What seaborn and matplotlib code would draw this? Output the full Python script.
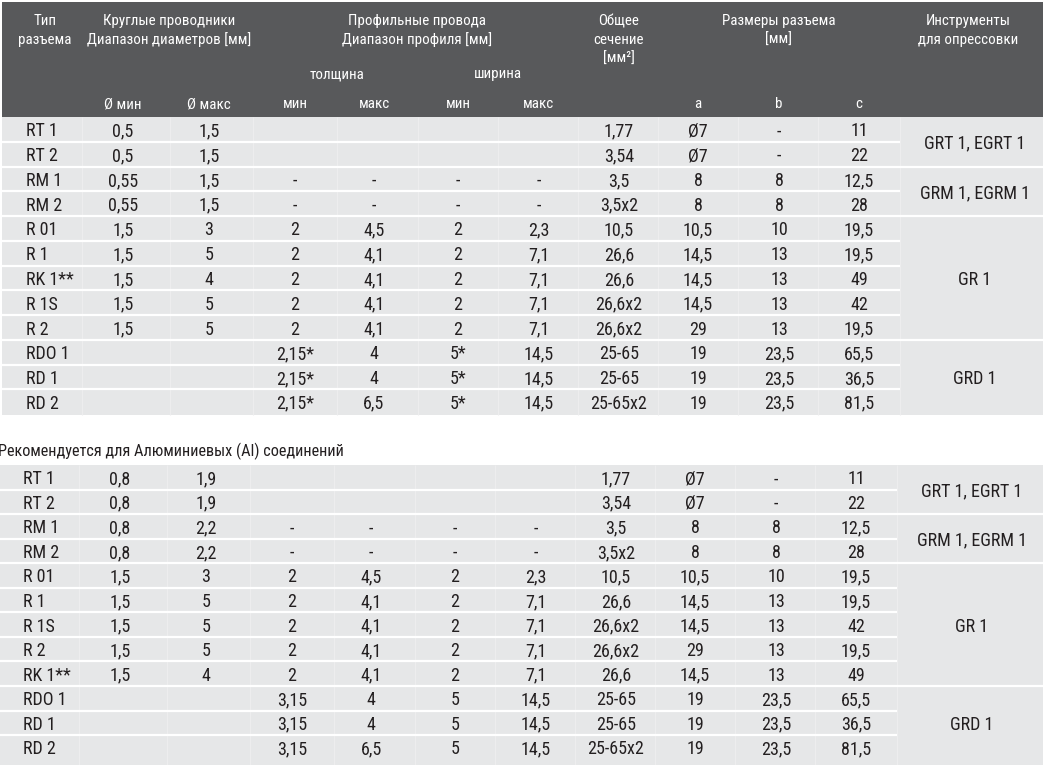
import matplotlib
matplotlib.use('Agg')
import matplotlib.pyplot as plt
import seaborn as sns
from matplotlib import font_manager
from matplotlib.patches import Rectangle

# данные таблицы 1 (медь)
types1 = ['RT 1', 'RT 2', 'RM 1', 'RM 2', 'R 01', 'R 1', 'RK 1**', 'R 1S', 'R 2', 'RDO 1', 'RD 1', 'RD 2']
dmin1 = ['0,5', '0,5', '0,55', '0,55', '1,5', '1,5', '1,5', '1,5', '1,5', '', '', '']
dmax1 = ['1,5', '1,5', '1,5', '1,5', '3', '5', '4', '5', '5', '', '', '']
tmin1 = ['', '', '-', '-', '2', '2', '2', '2', '2', '2,15*', '2,15*', '2,15*']
tmax1 = ['', '', '-', '-', '4,5', '4,1', '4,1', '4,1', '4,1', '4', '4', '6,5']
wmin1 = ['', '', '-', '-', '2', '2', '2', '2', '2', '5*', '5*', '5*']
wmax1 = ['', '', '-', '-', '2,3', '7,1', '7,1', '7,1', '7,1', '14,5', '14,5', '14,5']
sect1 = ['1,77', '3,54', '3,5', '3,5x2', '10,5', '26,6', '26,6', '26,6x2', '26,6x2', '25-65', '25-65', '25-65x2']
a1 = ['Ø7', 'Ø7', '8', '8', '10,5', '14,5', '14,5', '14,5', '29', '19', '19', '19']
b1 = ['-', '-', '8', '8', '10', '13', '13', '13', '13', '23,5', '23,5', '23,5']
c1 = ['11', '22', '12,5', '28', '19,5', '19,5', '49', '42', '19,5', '65,5', '36,5', '81,5']
tools1 = ['GRT 1, EGRT 1', 'GRM 1, EGRM 1', 'GR 1', 'GRD 1']
spans1 = [2, 2, 5, 3]

# данные таблицы 2 (алюминий)
types2 = ['RT 1', 'RT 2', 'RM 1', 'RM 2', 'R 01', 'R 1', 'R 1S', 'R 2', 'RK 1**', 'RDO 1', 'RD 1', 'RD 2']
dmin2 = ['0,8', '0,8', '0,8', '0,8', '1,5', '1,5', '1,5', '1,5', '1,5', '', '', '']
dmax2 = ['1,9', '1,9', '2,2', '2,2', '3', '5', '5', '5', '4', '', '', '']
tmin2 = ['', '', '-', '-', '2', '2', '2', '2', '2', '3,15', '3,15', '3,15']
tmax2 = ['', '', '-', '-', '4,5', '4,1', '4,1', '4,1', '4,1', '4', '4', '6,5']
wmin2 = ['', '', '-', '-', '2', '2', '2', '2', '2', '5', '5', '5']
wmax2 = ['', '', '-', '-', '2,3', '7,1', '7,1', '7,1', '7,1', '14,5', '14,5', '14,5']
sect2 = ['1,77', '3,54', '3,5', '3,5x2', '10,5', '26,6', '26,6x2', '26,6x2', '26,6', '25-65', '25-65', '25-65x2']
a2 = ['Ø7', 'Ø7', '8', '8', '10,5', '14,5', '14,5', '29', '14,5', '19', '19', '19']
b2 = ['-', '-', '8', '8', '10', '13', '13', '13', '13', '23,5', '23,5', '23,5']
c2 = ['11', '22', '12,5', '28', '19,5', '19,5', '42', '19,5', '49', '65,5', '36,5', '81,5']
tools2 = ['GRT 1, EGRT 1', 'GRM 1, EGRM 1', 'GR 1', 'GRD 1']
spans2 = [2, 2, 5, 3]

# шапка
head_top = [
    (['Тип', 'разъема'], 45),
    (['Круглые проводники', 'Диапазон диаметров [мм]'], 169),
    (['Профильные провода', 'Диапазон профиля [мм]'], 417),
    (['Общее', 'сечение', '[мм²]'], 619),
    (['Размеры разъема', '[мм]'], 779),
    (['Инструменты', 'для опрессовки'], 968),
]
head_mid = [('толщина', 337), ('ширина', 498)]
head_sub = ['Ø мин', 'Ø макс', 'мин', 'макс', 'мин', 'макс', '', 'a', 'b', 'c']
caption = 'Рекомендуется для Алюминиевых (Al) соединений'

# геометрия
col_x = [123, 209, 295, 374, 458, 539, 619, 698, 779, 859]
type_x = 26
col_bounds = [82, 170, 253, 337, 418, 498, 578, 658, 738, 818, 900]
tools_x0, tools_cx = 900, 975
W, H = 1043, 765

HEAD_BG = '#58595b'
ROW_BG = '#e6e7e8'
TXT = '#231f20'
HFS = 10.8   # шрифт шапки
BFS = 13     # шрифт строк

sns.set_theme(style='white')
names = {f.name for f in font_manager.fontManager.ttflist}
narrow = [n for n in ['Liberation Sans Narrow', 'Roboto Condensed', 'Open Sans Condensed',
                      'Noto Sans Condensed'] if n in names]
if narrow:
    plt.rcParams['font.family'] = [narrow[0], 'DejaVu Sans']
    stretch = 'normal'
else:
    plt.rcParams['font.family'] = ['DejaVu Sans']
    stretch = 'condensed'

fig = plt.figure(figsize=(W / 100, H / 100), dpi=100)
ax = fig.add_axes([0, 0, 1, 1])
ax.set_xlim(0, W)
ax.set_ylim(H, 0)
ax.axis('off')

# шапка
ax.add_patch(Rectangle((2, 2), W - 2, 115, color=HEAD_BG, lw=0))
for lines, x in head_top:
    for k, s in enumerate(lines):
        ax.text(x, 25 + 19 * k, s, color='white', fontsize=HFS, ha='center',
                va='baseline', fontstretch=stretch)
for s, x in head_mid:
    ax.text(x, 78, s, color='white', fontsize=HFS, ha='center', va='baseline', fontstretch=stretch)
for s, x in zip(head_sub, col_x):
    ax.text(x, 108, s, color='white', fontsize=HFS, ha='center', va='baseline', fontstretch=stretch)


def draw_table(types, cols, tools, spans, top, pitch, bottom, dx, x0):
    n = len(types)
    ax.add_patch(Rectangle((x0, top), W - x0, bottom - top, color=ROW_BG, lw=0))
    for xb in col_bounds:
        ax.vlines(xb + dx, top, bottom, color='#ededee', lw=0.8)
    # границы групп
    edges = []
    acc = 0
    for sp in spans:
        acc += sp
        edges.append(acc)
    for i in range(1, n):
        y = top + i * pitch
        xe = W if i in edges else tools_x0 + dx
        ax.hlines(y, x0, xe, color='white', lw=1.6)
    for i in range(n):
        yb = top + (i + 0.5) * pitch + 7
        ax.text(type_x + dx, yb, types[i], color=TXT, fontsize=BFS, ha='left',
                va='baseline', fontstretch=stretch)
        for col, x in zip(cols, col_x):
            if col[i]:
                ax.text(x + dx, yb, col[i], color=TXT, fontsize=BFS, ha='center',
                        va='baseline', fontstretch=stretch)
    start = 0
    for name, sp in zip(tools, spans):
        yc = top + (start + sp / 2) * pitch + 7
        ax.text(tools_cx + dx, yc, name, color=TXT, fontsize=BFS, ha='center',
                va='baseline', fontstretch=stretch)
        start += sp


draw_table(types1, [dmin1, dmax1, tmin1, tmax1, wmin1, wmax1, sect1, a1, b1, c1],
           tools1, spans1, 117, 24.77, 414.5, 0, 2)
ax.text(-2, 456, caption, color=TXT, fontsize=11.7, ha='left', va='baseline', fontstretch=stretch)
draw_table(types2, [dmin2, dmax2, tmin2, tmax2, wmin2, wmax2, sect2, a2, b2, c2],
           tools2, spans2, 465, 24.55, H, -3, 0)

fig.savefig('out.png', dpi=100, facecolor='white')
